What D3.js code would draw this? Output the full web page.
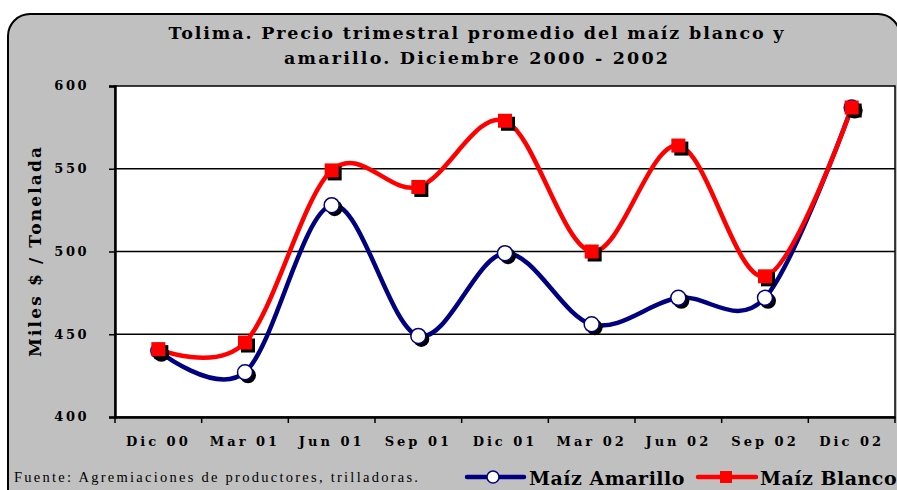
<!DOCTYPE html>
<html><head><meta charset="utf-8">
<script src="https://cdn.jsdelivr.net/npm/d3@7"></script>
<style>html,body{margin:0;padding:0;background:#fff;}svg{display:block;}</style>
</head><body>
<svg id="chart" width="897" height="490"></svg>
<script>
const categories = ["Dic 00","Mar 01","Jun 01","Sep 01","Dic 01","Mar 02","Jun 02","Sep 02","Dic 02"];
const amarillo = [440, 427, 528, 449, 499, 456, 472, 472, 587];
const blanco   = [441, 445, 549, 539, 579, 500, 564, 485, 587];
const yTicks = [400, 450, 500, 550, 600];
const titleLines = ["Tolima. Precio trimestral promedio del maíz blanco y", "amarillo. Diciembre 2000 - 2002"];
const yTitle = "Miles $ / Tonelada";
const source = "Fuente: Agremiaciones de productores, trilladoras.";
const seriesNames = ["Maíz Amarillo", "Maíz Blanco"];

const svg = d3.select("#chart");
const serif = "'DejaVu Serif', 'Liberation Serif', serif";
const timesF = "'Liberation Serif', 'DejaVu Serif', serif";

// outer chart area
svg.append("rect").attr("x", 8).attr("y", 14).attr("width", 892).attr("height", 520)
  .attr("rx", 22).attr("ry", 22).attr("fill", "#C0C0C0").attr("stroke", "#000").attr("stroke-width", 2);

const L = 115, R = 895, T = 86, B = 417;
const x = d3.scaleBand().domain(categories).range([L, R]).padding(0);
const y = d3.scaleLinear().domain([400, 600]).range([B, T]);
const cx = d => x(d) + x.bandwidth() / 2;

// plot background
svg.append("rect").attr("x", L).attr("y", T).attr("width", R - L).attr("height", B - T)
  .attr("fill", "#fff").attr("stroke", "#000").attr("stroke-width", 1.5);

// gridlines
svg.append("g").selectAll("line").data(yTicks.filter(v => v > 400 && v < 600)).join("line")
  .attr("x1", L).attr("x2", R).attr("y1", d => y(d)).attr("y2", d => y(d))
  .attr("stroke", "#000").attr("stroke-width", 1.5);

// y axis
const yAxis = svg.append("g").attr("transform", `translate(${L},0)`)
  .call(d3.axisLeft(y).tickValues(yTicks).tickSize(6).tickPadding(20).tickFormat(d3.format("d")));
yAxis.select(".domain").attr("stroke", "#000").attr("stroke-width", 2.5);
yAxis.selectAll(".tick line").attr("stroke", "#000").attr("stroke-width", 1.5);
yAxis.selectAll(".tick text").attr("font-family", serif).attr("font-weight", "bold")
  .attr("font-size", 13).attr("letter-spacing", 2.5).attr("fill", "#000").attr("dy", "0.3em");

// x axis
const xAxis = svg.append("g").attr("transform", `translate(0,${B})`)
  .call(d3.axisBottom(x).tickSize(0).tickPadding(20));
xAxis.select(".domain").attr("stroke", "#000").attr("stroke-width", 2.5);
xAxis.selectAll(".tick text").attr("font-family", serif).attr("font-weight", "bold")
  .attr("font-size", 13).attr("letter-spacing", 3).attr("fill", "#000");
// tick marks between categories
const edges = categories.map(c => x(c)).concat([x(categories[categories.length - 1]) + x.bandwidth()]);
svg.append("g").selectAll("line").data(edges).join("line")
  .attr("x1", d => d).attr("x2", d => d).attr("y1", B).attr("y2", B + 6)
  .attr("stroke", "#000").attr("stroke-width", 1.5);

// title
const titleLen = [615, 384];
svg.append("g").selectAll("text").data(titleLines).join("text")
  .attr("x", 476).attr("y", (d, i) => 39 + i * 25)
  .attr("text-anchor", "middle").attr("font-family", serif).attr("font-weight", "bold")
  .attr("font-size", 17.5).attr("textLength", (d, i) => titleLen[i]).attr("lengthAdjust", "spacing")
  .attr("fill", "#000").text(d => d);

// y title
svg.append("text").attr("transform", "translate(41,252) rotate(-90)")
  .attr("text-anchor", "middle").attr("font-family", serif).attr("font-weight", "bold")
  .attr("font-size", 17).attr("textLength", 210).attr("lengthAdjust", "spacing")
  .attr("fill", "#000").text(yTitle);

// source
svg.append("text").attr("x", 14).attr("y", 482).attr("font-family", timesF)
  .attr("font-size", 14.5).attr("textLength", 404).attr("lengthAdjust", "spacing")
  .attr("fill", "#000").text(source);

// lines
const line = d3.line().x((d, i) => cx(categories[i])).y(d => y(d)).curve(d3.curveCatmullRom.alpha(0));
const colors = ["#000080", "#FF0000"];
const data = [amarillo, blanco];

data.forEach((vals, s) => {
  svg.append("path").datum(vals).attr("d", line).attr("fill", "none")
    .attr("stroke", colors[s]).attr("stroke-width", 4.5).attr("stroke-linejoin", "round");
});

function marker(g, s, px, py) {
  if (s === 0) {
    g.append("circle").attr("cx", px + 3).attr("cy", py + 3).attr("r", 8).attr("fill", "#000");
    g.append("circle").attr("cx", px).attr("cy", py).attr("r", 7.5).attr("fill", "#fff")
      .attr("stroke", "#000080").attr("stroke-width", 1.5);
  } else {
    g.append("rect").attr("x", px - 7 + 3).attr("y", py - 7 + 3).attr("width", 14).attr("height", 14).attr("fill", "#000");
    g.append("rect").attr("x", px - 7).attr("y", py - 7).attr("width", 14).attr("height", 14).attr("fill", "#FF0000");
  }
}
data.forEach((vals, s) => {
  const g = svg.append("g");
  vals.forEach((v, i) => marker(g, s, cx(categories[i]), y(v)));
});

// legend
const leg = [{x1: 467, x2: 524, mx: 493, tx: 529}, {x1: 698, x2: 756, mx: 726, tx: 760}];
leg.forEach((l, s) => {
  const g = svg.append("g");
  g.append("line").attr("x1", l.x1).attr("x2", l.x2).attr("y1", 477).attr("y2", 477)
    .attr("stroke", colors[s]).attr("stroke-width", 4.5).attr("stroke-linecap", "round");
  if (s === 0) {
    g.append("circle").attr("cx", l.mx).attr("cy", 477).attr("r", 6).attr("fill", "#fff")
      .attr("stroke", "#000080").attr("stroke-width", 1.5);
  } else {
    g.append("rect").attr("x", l.mx - 6).attr("y", 471).attr("width", 12).attr("height", 12).attr("fill", "#FF0000");
  }
  g.append("text").attr("x", l.tx).attr("y", 485).attr("font-family", serif).attr("font-weight", "bold")
    .attr("font-size", 19).attr("letter-spacing", 0.5).attr("fill", "#000").text(seriesNames[s]);
});
</script>
</body></html>
